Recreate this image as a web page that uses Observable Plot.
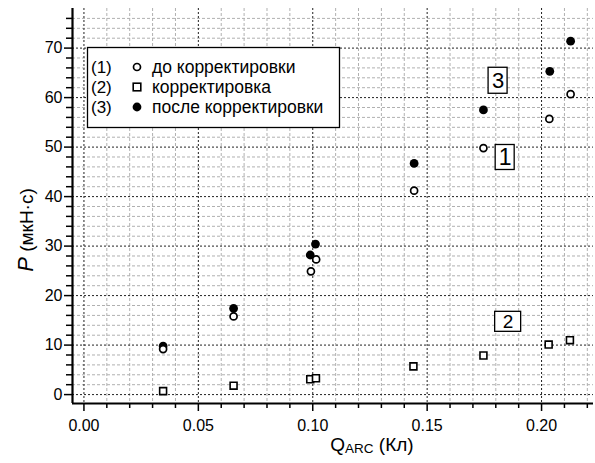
<!DOCTYPE html>
<html><head><meta charset="utf-8">
<script src="https://cdn.jsdelivr.net/npm/d3@7"></script>
<script src="https://cdn.jsdelivr.net/npm/@observablehq/plot@0.6"></script>
<style>
body{margin:0;background:#fff;}
#chart svg{display:block;font-family:"Liberation Sans",Arial,sans-serif;background:#fff;}
</style></head><body><div id="chart"></div>
<script>
// ---- data ----
const qBefore = [0.0346, 0.0654, 0.0992, 0.1015, 0.1443, 0.1746, 0.2034, 0.2127];
const pBefore = [9.2, 15.8, 24.9, 27.3, 41.2, 49.8, 55.7, 60.7];
const qCorr = [0.0346, 0.0654, 0.0989, 0.1014, 0.1440, 0.1746, 0.2031, 0.2124];
const pCorr = [0.7, 1.8, 3.1, 3.3, 5.7, 7.9, 10.1, 11.0];
const qAfter = [0.0346, 0.0654, 0.0989, 0.1012, 0.1443, 0.1746, 0.2036, 0.2127];
const pAfter = [9.8, 17.4, 28.2, 30.4, 46.7, 57.5, 65.3, 71.4];
const annotText = ["1", "2", "3"];
const annotQ = [0.1841, 0.1854, 0.1810];
const annotP = [47.9, 14.7, 63.4];
const legendNums = ["(1)", "(2)", "(3)"];
const legendTexts = ["до корректировки", "корректировка", "после корректировки"];
const xMajor = [0, 0.05, 0.10, 0.15, 0.20];
const xMinor = [0.01,0.02,0.03,0.04,0.06,0.07,0.08,0.09,0.11,0.12,0.13,0.14,0.16,0.17,0.18,0.19,0.21,0.22];
const yMajor = [0, 10, 20, 30, 40, 50, 60, 70];
const yMinor = [2,4,6,8,12,14,16,18,22,24,26,28,32,34,36,38,42,44,46,48,52,54,56,58,62,64,66,68,72,74,76];
const xDomain = [-0.005, 0.2227];
const yDomain = [-1.8, 78];

// ---- styles ----
const boxStyle = {"1": {w: 19, h: 25, fs: 23}, "2": {w: 26, h: 20, fs: 19}, "3": {w: 19, h: 26, fs: 22}};

const before = qBefore.map((q, i) => ({q, p: pBefore[i]}));
const corr = qCorr.map((q, i) => ({q, p: pCorr[i]}));
const after = qAfter.map((q, i) => ({q, p: pAfter[i]}));
const annots = annotText.map((t, i) => ({t, q: annotQ[i], p: annotP[i]}));

const chart = Plot.plot({
  width: 595, height: 463,
  marginLeft: 72, marginRight: 2, marginTop: 8, marginBottom: 60,
  style: {fontFamily: '"Liberation Sans", Arial, sans-serif', fontSize: "16px", color: "#000"},
  x: {domain: xDomain},
  y: {domain: yDomain},
  marks: [
    Plot.ruleX(xMinor, {stroke: "#b0b0b0", strokeDasharray: "3,2", strokeWidth: 1}),
    Plot.ruleY(yMinor, {stroke: "#b0b0b0", strokeDasharray: "3,2", strokeWidth: 1}),
    Plot.ruleX(xMajor, {stroke: "#222", strokeDasharray: "2,2", strokeWidth: 1}),
    Plot.ruleY(yMajor, {stroke: "#222", strokeDasharray: "2,2", strokeWidth: 1}),
    Plot.axisX(xMinor, {tickSize: 5, text: null, label: null, strokeWidth: 1.5}),
    Plot.axisX(xMajor, {tickSize: 8, tickPadding: 8, tickFormat: d3.format(".2f"), label: null, fontSize: 16, strokeWidth: 1.5}),
    Plot.axisY(yMinor, {tickSize: 6, text: null, label: null, strokeWidth: 1.5}),
    Plot.axisY(yMajor, {tickSize: 8, tickPadding: 2, label: null, fontSize: 16, strokeWidth: 1.5}),
    Plot.ruleX([xDomain[0]], {stroke: "#000", strokeWidth: 2.2}),
    Plot.ruleY([yDomain[0]], {stroke: "#000", strokeWidth: 2.2}),
    Plot.dot(corr, {x: "q", y: "p", symbol: "square", r: 3.9, stroke: "#000", strokeWidth: 1.6, fill: "#fff"}),
    Plot.dot(after, {x: "q", y: "p", r: 4.4, fill: "#000", stroke: "none"}),
    Plot.dot(before, {x: "q", y: "p", r: 3.5, stroke: "#000", strokeWidth: 1.7, fill: "#fff"}),
    Plot.text(annots, {x: "q", y: "p", text: "t", fontSize: d => boxStyle[d.t].fs, fill: "#000"})
  ]
});

const svg = d3.select(chart);
const xs = chart.scale("x"), ys = chart.scale("y");

// boxes around annotation numbers
annots.forEach(a => {
  const s = boxStyle[a.t];
  const cx = xs.apply(a.q), cy = ys.apply(a.p);
  svg.insert("rect", "g[aria-label='text']")
    .attr("x", cx - s.w / 2).attr("y", cy - s.h / 2)
    .attr("width", s.w).attr("height", s.h)
    .attr("fill", "#fff").attr("stroke", "#000").attr("stroke-width", 1.3);
});

// legend
const lg = svg.append("g").attr("text-anchor", "start");
lg.append("rect").attr("x", 87.5).attr("y", 47.5).attr("width", 252).attr("height", 80)
  .attr("fill", "#fff").attr("stroke", "#000").attr("stroke-width", 1.3);
const rowY = [67, 87, 107];
legendNums.forEach((n, i) => {
  lg.append("text").attr("text-anchor", "start").attr("x", 91).attr("y", rowY[i] + 6).attr("font-size", 17).text(n);
  lg.append("text").attr("text-anchor", "start").attr("x", 152).attr("y", rowY[i] + 6).attr("font-size", 17.5).text(legendTexts[i]);
});
lg.append("circle").attr("cx", 137).attr("cy", rowY[0]).attr("r", 3.5).attr("fill", "#fff").attr("stroke", "#000").attr("stroke-width", 1.7);
lg.append("rect").attr("x", 133.2).attr("y", rowY[1] - 3.8).attr("width", 7.6).attr("height", 7.6).attr("fill", "#fff").attr("stroke", "#000").attr("stroke-width", 1.6);
lg.append("circle").attr("cx", 137).attr("cy", rowY[2]).attr("r", 4.4).attr("fill", "#000");

// axis titles
const xt = svg.append("text").attr("x", 372).attr("y", 451).attr("text-anchor", "middle").attr("font-size", 19);
xt.append("tspan").text("Q");
xt.append("tspan").attr("font-size", 13.5).attr("dy", 2).text("ARC");
xt.append("tspan").attr("dy", -2).text(" (Кл)");

const yt = svg.append("text").attr("transform", "translate(33,230) rotate(-90)").attr("text-anchor", "middle").attr("font-size", 19);
yt.append("tspan").attr("font-style", "italic").attr("font-size", 22).text("P");
yt.append("tspan").text(" (мкН·с)");

document.getElementById("chart").appendChild(chart);
</script>
</body></html>
